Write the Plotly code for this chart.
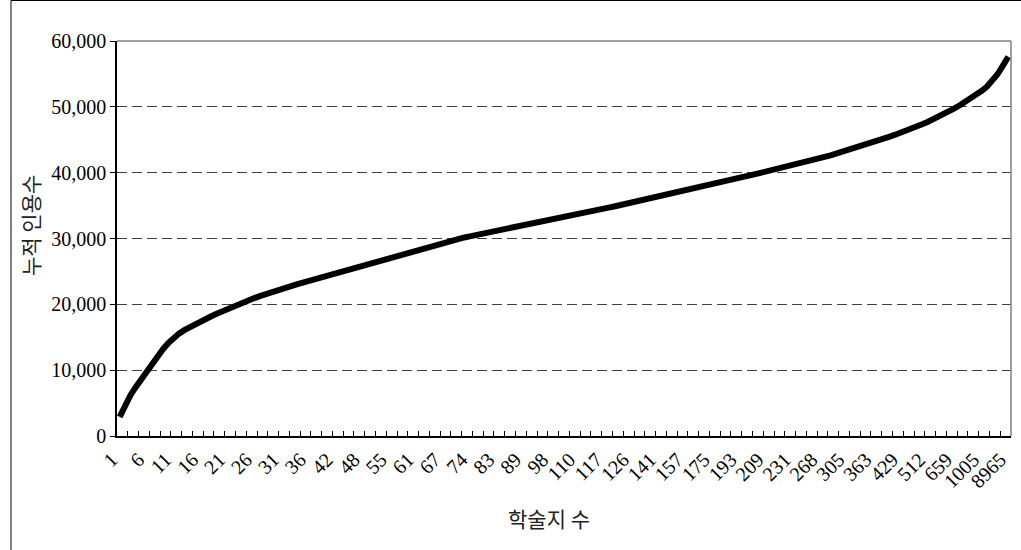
import plotly.graph_objects as go

# Cumulative citation count for each journal-rank category
cum_citations = [
    2900, 4700, 6200, 7450, 8650, 9850, 11000, 12100, 13150, 14100,
    14900, 15550, 16080, 16550, 16980, 17400, 17800, 18190, 18570, 18940,
    19300, 19650, 19990, 20320, 20640, 20950, 21250, 21540, 21820, 22090,
    22350, 22600, 22840, 23080, 23310, 23540, 23770, 24000, 24230, 24460,
    24690, 24920, 25160, 25400, 25640, 25880, 26120, 26360, 26600, 26840,
    27080, 27320, 27560, 27800, 28040, 28280, 28520, 28760, 28990, 29210,
    29420, 29620, 29810, 29990, 30160, 30330, 30490, 30650, 30810, 30970,
    31130, 31290, 31450, 31610, 31770, 31930, 32090, 32250, 32410, 32580,
    32750, 32920, 33100, 33280, 33460, 33640, 33820, 34000, 34180, 34360,
    34540, 34720, 34900, 35080, 35260, 35440, 35620, 35800, 35980, 36160,
    36340, 36520, 36700, 36880, 37060, 37240, 37420, 37600, 37790, 37980,
    38180, 38380, 38580, 38780, 38980, 39180, 39380, 39580, 39780, 39970,
    40160, 40350, 40540, 40730, 40920, 41120, 41320, 41530, 41740, 41960,
    42180, 42410, 42640, 42880, 43120, 43370, 43620, 43880, 44140, 44400,
    44670, 44940, 45210, 45490, 45770, 46050, 46360, 46680, 47010, 47350,
    47700, 48070, 48450, 48870, 49310, 49770, 50240, 50730, 51250, 51800,
    52400, 53050, 53850, 54950, 56250, 57600,
]

# Category labels shown on the x axis (every 5th category)
x_tick_labels = [
    "1", "6", "11", "16", "21", "26", "31", "36", "42", "48", "55", "61",
    "67", "74", "83", "89", "98", "110", "117", "126", "141", "157", "175",
    "193", "209", "231", "268", "305", "363", "429", "512", "659", "1005", "8965",
]
label_step = 5

y_ticks = [0, 10000, 20000, 30000, 40000, 50000, 60000]

x_title = "학술지 수"
y_title = "누적 인용수"

n = len(cum_citations)
x_idx = list(range(n))
tick_positions = [i * label_step for i in range(len(x_tick_labels))]
minor_positions = [k - 0.5 for k in range(2, n, 2)]

serif = "Liberation Serif, DejaVu Serif, serif"
kr = "Noto Sans CJK KR, sans-serif"

W, H = 1021, 550
ML, MR, MT, MB = 117, 10, 41, 114

fig = go.Figure()
fig.add_trace(go.Scatter(
    x=x_idx, y=cum_citations, mode="lines",
    line=dict(color="black", width=6),
    showlegend=False, hoverinfo="skip",
))

fig.update_layout(
    width=W, height=H,
    margin=dict(l=ML, r=MR, t=MT, b=MB, autoexpand=False),
    paper_bgcolor="white", plot_bgcolor="white",
    showlegend=False,
    xaxis=dict(
        range=[-0.5, n - 0.5],
        tickmode="array", tickvals=tick_positions, ticktext=x_tick_labels,
        tickangle=-45, ticks="inside", ticklen=5, tickcolor="rgba(0,0,0,0)",
        ticklabelshift=-8, ticklabelstandoff=2,
        tickfont=dict(family=serif, size=20, color="black"),
        showgrid=False, zeroline=False,
        showline=True, linecolor="black", linewidth=2,
        minor=dict(ticks="inside", ticklen=5, tickwidth=1, tickcolor="black",
                   tickmode="array", tickvals=minor_positions, showgrid=False),
    ),
    yaxis=dict(
        range=[0, 60000],
        tickmode="array", tickvals=y_ticks,
        tickformat=",",
        ticks="outside", ticklen=5, tickcolor="black", tickwidth=1,
        tickfont=dict(family=serif, size=20, color="black"),
        showgrid=True, gridcolor="#404040", gridwidth=1, griddash="10px,5px",
        zeroline=False,
        showline=True, linecolor="black", linewidth=1.5,
    ),
)

# plot-area border on top and right (grey)
fig.add_shape(type="line", xref="paper", yref="paper", x0=0, x1=1, y0=1, y1=1,
              line=dict(color="#808080", width=1.5), layer="above")
fig.add_shape(type="line", xref="paper", yref="paper", x0=1, x1=1, y0=0, y1=1,
              line=dict(color="#808080", width=1.5), layer="above")

plot_w = W - ML - MR
plot_h = H - MT - MB
def px_x(p):
    return (p - ML) / plot_w
def px_y(p):
    return (H - MB - p) / plot_h

# outer chart frame (left and top edges)
fig.add_shape(type="line", xref="paper", yref="paper",
              x0=px_x(11), x1=px_x(11), y0=px_y(550), y1=px_y(0.5),
              line=dict(color="black", width=1))
fig.add_shape(type="line", xref="paper", yref="paper",
              x0=px_x(11), x1=px_x(1021), y0=px_y(0.5), y1=px_y(0.5),
              line=dict(color="black", width=1))

fig.add_annotation(text=x_title, xref="paper", yref="paper",
                   x=px_x(549), y=px_y(518), xanchor="center", yanchor="middle",
                   showarrow=False,
                   font=dict(family=kr, size=21, color="#222222"))
fig.add_annotation(text=y_title, xref="paper", yref="paper",
                   x=px_x(30), y=px_y(226), xanchor="center", yanchor="middle",
                   showarrow=False, textangle=-90,
                   font=dict(family=kr, size=21, color="#222222"))

fig.write_html(
    "out.html",
    config={"displayModeBar": False},
    post_script="document.body.style.margin='0';document.documentElement.style.overflow='hidden';",
)
